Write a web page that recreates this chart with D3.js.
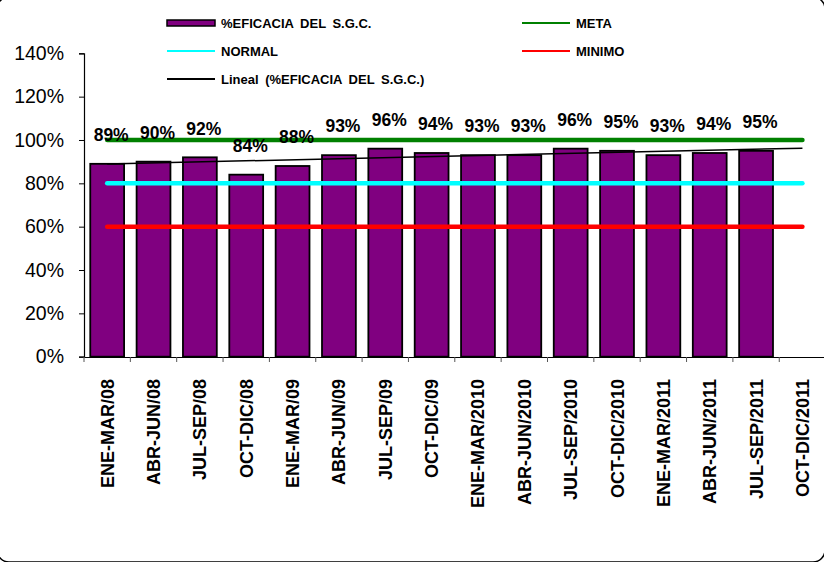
<!DOCTYPE html>
<html>
<head>
<meta charset="utf-8">
<script src="https://cdn.jsdelivr.net/npm/d3@7"></script>
<style>
	body { margin: 0; background: #fff; }
	svg { display: block; }
	text { font-family: "Liberation Sans", Arial, sans-serif; }
</style>
</head>
<body>
<div id="chart"></div>
<script>
// periodos (trimestres)
var periods = ["ENE-MAR/08", "ABR-JUN/08", "JUL-SEP/08", "OCT-DIC/08",
	"ENE-MAR/09", "ABR-JUN/09", "JUL-SEP/09", "OCT-DIC/09",
	"ENE-MAR/2010", "ABR-JUN/2010", "JUL-SEP/2010", "OCT-DIC/2010",
	"ENE-MAR/2011", "ABR-JUN/2011", "JUL-SEP/2011", "OCT-DIC/2011"];

// %EFICACIA DEL S.G.C. (el ultimo trimestre sin dato)
var eficacia = [0.89, 0.90, 0.92, 0.84, 0.88, 0.93, 0.96, 0.94,
	0.93, 0.93, 0.96, 0.95, 0.93, 0.94, 0.95, null];

var meta   = [1.0, 1.0, 1.0, 1.0, 1.0, 1.0, 1.0, 1.0, 1.0, 1.0, 1.0, 1.0, 1.0, 1.0, 1.0, 1.0];
var normal = [0.8, 0.8, 0.8, 0.8, 0.8, 0.8, 0.8, 0.8, 0.8, 0.8, 0.8, 0.8, 0.8, 0.8, 0.8, 0.8];
var minimo = [0.6, 0.6, 0.6, 0.6, 0.6, 0.6, 0.6, 0.6, 0.6, 0.6, 0.6, 0.6, 0.6, 0.6, 0.6, 0.6];

var yTicks = [0, 0.2, 0.4, 0.6, 0.8, 1.0, 1.2, 1.4];

var W = 824, H = 562;

var svg = d3.select("#chart").append("svg")
	.attr("width", W)
	.attr("height", H);

// marco redondeado del area del grafico
svg.append("rect")
	.attr("x", -3).attr("y", -3)
	.attr("width", W + 4).attr("height", H + 3)
	.attr("rx", 12)
	.attr("fill", "none")
	.attr("stroke", "#000")
	.attr("stroke-width", 1.5);

var x = d3.scaleBand()
	.domain(periods)
	.range([84, 825.6])
	.paddingInner(0.27)
	.paddingOuter(0.135);

var y = d3.scaleLinear()
	.domain([0, 1.4])
	.range([356.7, 53.3]);

var cx = function(p) { return x(p) + x.bandwidth() / 2; };

// eje Y
var yAxis = d3.axisLeft(y)
	.tickValues(yTicks)
	.tickFormat(d3.format(".0%"))
	.tickSize(5)
	.tickPadding(15);

var gy = svg.append("g")
	.attr("transform", "translate(84,0)")
	.call(yAxis);
gy.select(".domain").attr("stroke", "#000").attr("stroke-width", 1.2);
gy.selectAll(".tick line").attr("stroke", "#000");
gy.selectAll(".tick text")
	.attr("font-size", "19.5px")
	.attr("fill", "#000")
	.style("font-family", "'Liberation Sans', Arial, sans-serif");

// eje X
var xAxis = d3.axisBottom(x).tickSize(0).tickFormat("");
var gx = svg.append("g")
	.attr("transform", "translate(0,357)")
	.call(xAxis);
gx.select(".domain").attr("stroke", "#000").attr("stroke-width", 1.2);

// marcas entre categorias
svg.append("g").selectAll("line")
	.data(periods)
	.enter().append("line")
	.attr("x1", function(d) { return x(d) - x.step() * x.paddingOuter(); })
	.attr("x2", function(d) { return x(d) - x.step() * x.paddingOuter(); })
	.attr("y1", 357).attr("y2", 362)
	.attr("stroke", "#555");

svg.append("g").selectAll("text")
	.data(periods)
	.enter().append("text")
	.attr("transform", function(d) { return "translate(" + cx(d) + ",379) rotate(-90)"; })
	.attr("text-anchor", "end")
	.attr("dy", "0.36em")
	.attr("font-size", "18px")
	.attr("font-weight", "bold")
	.text(function(d) { return d; });

// barras
var barData = periods.map(function(p, i) { return { p: p, v: eficacia[i] }; })
	.filter(function(d) { return d.v != null; });

svg.append("g").selectAll("rect")
	.data(barData)
	.enter().append("rect")
	.attr("x", function(d) { return x(d.p); })
	.attr("y", function(d) { return y(d.v); })
	.attr("width", x.bandwidth())
	.attr("height", function(d) { return y(0) - y(d.v); })
	.attr("fill", "#800080")
	.attr("stroke", "#000")
	.attr("stroke-width", 1.8);

// lineas de referencia
var lineFn = d3.line()
	.x(function(d) { return cx(d.p); })
	.y(function(d) { return y(d.v); });

var refLines = [
	{ name: "MINIMO", vals: minimo, color: "#ff0000" },
	{ name: "NORMAL", vals: normal, color: "#00ffff" },
	{ name: "META", vals: meta, color: "#008000" }
];

refLines.forEach(function(s) {
	svg.append("path")
		.attr("d", lineFn(periods.map(function(p, i) { return { p: p, v: s.vals[i] }; })))
		.attr("fill", "none")
		.attr("stroke", s.color)
		.attr("stroke-width", 4.5)
		.attr("stroke-linecap", "round");
});

// linea de tendencia lineal (minimos cuadrados)
var pts = eficacia.map(function(v, i) { return [i, v]; }).filter(function(d) { return d[1] != null; });
var mx = d3.mean(pts, function(d) { return d[0]; });
var my = d3.mean(pts, function(d) { return d[1]; });
var sxy = d3.sum(pts, function(d) { return (d[0] - mx) * (d[1] - my); });
var sxx = d3.sum(pts, function(d) { return (d[0] - mx) * (d[0] - mx); });
var slope = sxy / sxx;
var icpt = my - slope * mx;

var trend = periods.map(function(p, i) { return { p: p, v: icpt + slope * i }; });
svg.append("path")
	.attr("d", lineFn([trend[0], trend[trend.length - 1]]))
	.attr("fill", "none")
	.attr("stroke", "#000")
	.attr("stroke-width", 1.5);

// etiquetas de datos
svg.append("g").selectAll("text")
	.data(barData)
	.enter().append("text")
	.attr("x", function(d) { return cx(d.p) + 4; })
	.attr("y", function(d) { return y(d.v) - 29; })
	.attr("dy", "0.36em")
	.attr("text-anchor", "middle")
	.attr("font-size", "17.5px")
	.attr("font-weight", "bold")
	.text(function(d) { return d3.format(".0%")(d.v); });

// leyenda
var legendItems = [
	{ name: "%EFICACIA DEL S.G.C.", kind: "bar", color: "#800080", col: 0, row: 0 },
	{ name: "META", kind: "line", color: "#008000", col: 1, row: 0 },
	{ name: "NORMAL", kind: "line", color: "#00ffff", col: 0, row: 1 },
	{ name: "MINIMO", kind: "line", color: "#ff0000", col: 1, row: 1 },
	{ name: "Lineal (%EFICACIA DEL S.G.C.)", kind: "line", color: "#000", col: 0, row: 2 }
];

var lg = svg.append("g");
var colX = [167, 522];
legendItems.forEach(function(it) {
	var lx = colX[it.col], ly = 23 + it.row * 28;
	if (it.kind == "bar") {
		lg.append("rect")
			.attr("x", lx).attr("y", ly - 3)
			.attr("width", 48).attr("height", 6)
			.attr("fill", it.color)
			.attr("stroke", "#000")
			.attr("stroke-width", 1.5);
	} else {
		lg.append("line")
			.attr("x1", lx).attr("x2", lx + 48)
			.attr("y1", ly).attr("y2", ly)
			.attr("stroke", it.color)
			.attr("stroke-width", 2);
	}
	lg.append("text")
		.attr("x", lx + 54)
		.attr("y", ly)
		.attr("dy", "0.36em")
		.attr("font-size", "13px")
		.attr("font-weight", "bold")
		.attr("word-spacing", "3px")
		.text(it.name);
});
</script>
</body>
</html>
